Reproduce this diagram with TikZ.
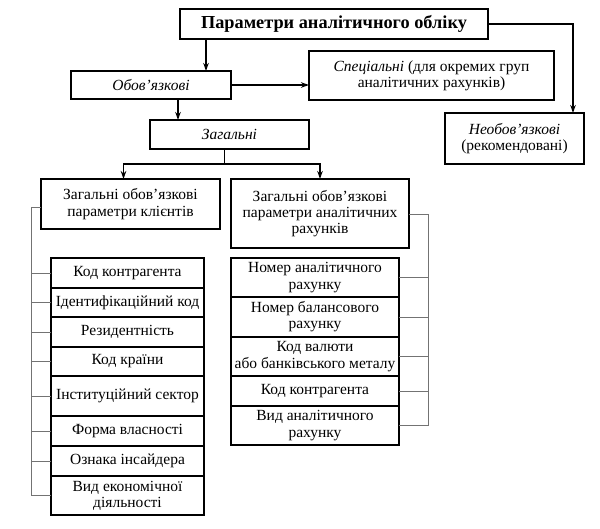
\documentclass[tikz,border=0pt]{standalone}
\usepackage{fontspec}
\setmainfont{Liberation Serif}
\usetikzlibrary{arrows.meta}
\usetikzlibrary{positioning}

\definecolor{tickgray}{gray}{0.45}

\tikzset{
  box/.style={draw,line width=1.6pt,rectangle,align=center,inner sep=0pt,outer sep=0pt},
  row/.style={box,anchor=north},
  arr/.style={line width=1.6pt,-{Stealth[length=8pt,width=5.5pt]}},
  tick/.style={draw=tickgray,line width=0.9pt}
}

\begin{document}
\begin{tikzpicture}[x=1pt,y=-1pt,font=\fontsize{15.5}{16.2}\selectfont]
\useasboundingbox (0,0) rectangle (600,528);

\begin{scope}[every node/.style={box}]
    \node[minimum width=308pt,minimum height=30pt,font=\fontsize{18.3}{20}\selectfont\bfseries]
         (title)    at (334,24)     {Параметри аналітичного обліку};
    \node[minimum width=160pt,minimum height=28pt] (oblig)    at (151,85)     {\textit{Обов’язкові}};
    \node[minimum width=245pt,minimum height=49pt] (spec)     at (431.5,75.5) {\textit{Спеціальні} (для окремих груп \\ аналітичних рахунків)};
    \node[minimum width=139pt,minimum height=51pt] (opt)      at (514.5,138.5){\textit{Необов’язкові} \\ (рекомендовані)};
    \node[minimum width=159pt,minimum height=29pt] (general)  at (229.5,134.5){\textit{Загальні}};
    \node[minimum width=179pt,minimum height=50pt] (clients)  at (130.5,204)  {Загальні обов’язкові \\ параметри клієнтів};
    \node[minimum width=178pt,minimum height=69pt] (accounts) at (320,213.5)  {Загальні обов’язкові \\ параметри аналітичних \\ рахунків};
\end{scope}

\begin{scope}[every node/.style={row,minimum width=153pt}]
    \node[minimum height=30pt] (cl1) at (127.5,258)    {Код контрагента};
    \node[minimum height=29pt,below=0pt of cl1] (cl2) {Ідентифікаційний код};
    \node[minimum height=30pt,below=0pt of cl2] (cl3) {Резидентність};
    \node[minimum height=29pt,below=0pt of cl3] (cl4) {Код країни};
    \node[minimum height=40pt,below=0pt of cl4] (cl5) {Інституційний сектор};
    \node[minimum height=30pt,below=0pt of cl5] (cl6) {Форма власності};
    \node[minimum height=30pt,below=0pt of cl6] (cl7) {Ознака інсайдера};
    \node[minimum height=39pt,below=0pt of cl7] (cl8) {Вид економічної \\ діяльності};
\end{scope}

\begin{scope}[every node/.style={row,minimum width=168pt}]
    \node[minimum height=39pt] (ac1) at (315,258)    {Номер аналітичного \\ рахунку};
    \node[minimum height=40pt,below=0pt of ac1] (ac2) {Номер балансового \\ рахунку};
    \node[minimum height=39pt,below=0pt of ac2] (ac3) {Код валюти \\ або банківського металу};
    \node[minimum height=30pt,below=0pt of ac3] (ac4) {Код контрагента};
    \node[minimum height=39pt,below=0pt of ac4] (ac5) {Вид аналітичного \\ рахунку};
\end{scope}

\draw[arr] ([xshift=55pt]oblig.north |- title.south) -- ([xshift=55pt]oblig.north);
\draw[arr] (oblig.east) -- (oblig.east -| spec.west);
\draw[arr] ([xshift=27pt]oblig.south) -- ([xshift=27pt]oblig.south |- general.north);
\draw[arr] (title.east) -| ([xshift=-11pt]opt.north east);
\draw[line width=1.6pt] ([xshift=-5pt]general.south) -- ++(0,15) coordinate (split);
\draw[arr] (split) -| ([xshift=-7pt]clients.north);
\draw[arr] (split) -| (accounts.north);

\coordinate (lbar) at (31,0);
\coordinate (rbar) at (428,0);
\draw[tick] ([yshift=-3pt]clients.west) -- ([yshift=-3pt]clients.west -| lbar) -- (cl8.west -| lbar);
\draw[tick] ([yshift=-1pt]accounts.east) -- ([yshift=-1pt]accounts.east -| rbar) -- (ac5.east -| rbar);
\foreach \i in {1,...,8}
    \draw[tick] (cl\i.west) -- (cl\i.west -| lbar);
\foreach \i in {1,...,5}
    \draw[tick] (ac\i.east) -- (ac\i.east -| rbar);
\end{tikzpicture}
\end{document}
